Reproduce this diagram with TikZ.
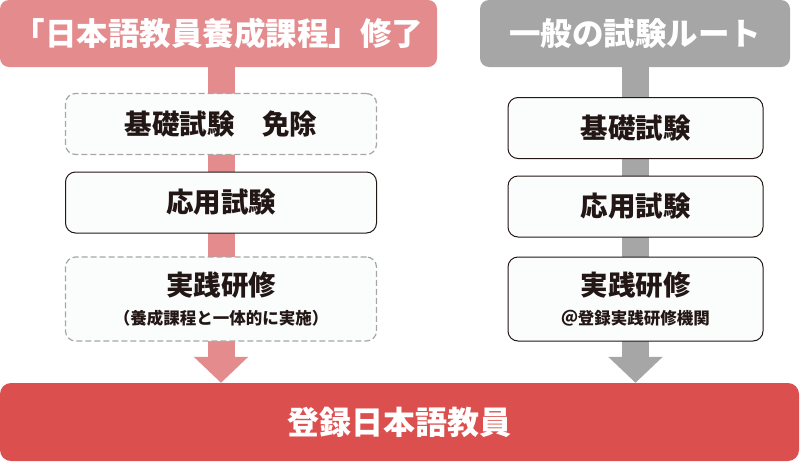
\documentclass[tikz,border=0pt]{standalone}
\usepackage{fontspec}
\setmainfont{Noto Sans CJK JP}
\usetikzlibrary{arrows.meta,backgrounds}

\definecolor{pinkhead}{HTML}{E48B8E}
\definecolor{grayhead}{HTML}{A6A6A6}
\definecolor{regred}{HTML}{DB504F}
\definecolor{boxfill}{HTML}{FBFCFC}
\definecolor{ink}{HTML}{221714}

\newcommand{\subfont}{\fontsize{16.5}{18}\selectfont\bfseries}

\tikzset{
  head/.style={rounded corners=9pt, minimum height=67pt, inner sep=0pt,
    text=white, font=\fontsize{31.5}{33}\selectfont\bfseries},
  stepbox/.style={draw=ink, line width=1pt, fill=boxfill, rounded corners=10pt,
    minimum height=61pt, inner sep=0pt, text=ink, align=center,
    font=\fontsize{27.5}{29}\selectfont\bfseries},
  waived/.style={stepbox, draw=gray!70, line width=1.2pt, dash pattern=on 6pt off 3pt},
  trunk/.style={line width=27pt, -{Triangle[width=53pt,length=26pt]}},
}

\begin{document}
\begin{tikzpicture}[x=1pt,y=-1pt]
\useasboundingbox (0,0) rectangle (800,461);

\node[head, fill=pinkhead, minimum width=437pt] at (218.5,33.5) (lhead) {「日本語教員養成課程」修了};
\node[head, fill=grayhead, minimum width=310pt] at (635,33.5) (rhead) {一般の試験ルート};
\node[head, fill=regred, rounded corners=11pt, minimum width=799pt, minimum height=78pt,
      font=\fontsize{32}{34}\selectfont\bfseries] at (399.5,422) (reg) {登録日本語教員};

\coordinate (lbase) at (221,0);
\path (lbase) +(0,124)   node[waived, minimum width=311pt]  (lkiso)   {基礎試験　免除}
              +(0,202.5) node[stepbox, minimum width=311pt] (louyou)  {応用試験}
              +(0,299)   node[waived, minimum width=311pt, minimum height=84pt] (ljissen)
                {実践研修\\[0pt]{\subfont （養成課程と一体的に実施）}}
;

\coordinate (rbase) at (635.5,0);
\path (rbase) +(0,128)   node[stepbox, minimum width=255pt] (rkiso)   {基礎試験}
              +(0,206.5) node[stepbox, minimum width=255pt] (rouyou)  {応用試験}
              +(0,299)   node[stepbox, minimum width=255pt, minimum height=84pt] (rjissen)
                {実践研修\\[0pt]{\subfont ＠登録実践研修機関}}
;

\begin{scope}[on background layer]
\foreach \c/\col in {l/pinkhead,r/grayhead}
  {\draw[trunk, \col] (\c kiso.north |- \c head.south) -- (\c kiso.north |- reg.north);}
\end{scope}

\end{tikzpicture}
\end{document}
